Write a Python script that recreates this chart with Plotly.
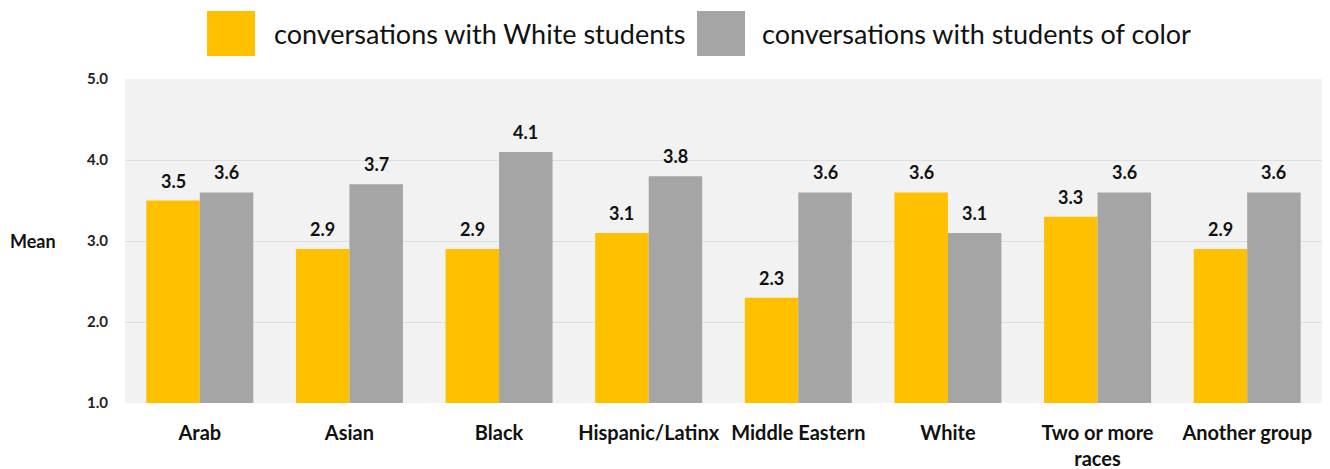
import plotly.graph_objects as go

categories = ["Arab", "Asian", "Black", "Hispanic/Latinx", "Middle Eastern", "White", "Two or more<br>races", "Another group"]
white_students = [3.5, 2.9, 2.9, 3.1, 2.3, 3.6, 3.3, 2.9]
students_of_color = [3.6, 3.7, 4.1, 3.8, 3.6, 3.1, 3.6, 3.6]
series_names = ["conversations with White students", "conversations with students of color"]
colors = ["#FFC000", "#A5A5A5"]
y_ticks = [1.0, 2.0, 3.0, 4.0, 5.0]

W, H = 1330, 469
L, R, T, B = 125, 8, 79, 66
pw, ph = W - L - R, H - T - B
BARGAP = 0.285

def px(x):
    return (x - L) / pw

def py(y):
    return (H - B - y) / ph

fig = go.Figure()
slot = pw / len(categories)
half = slot * (1 - BARGAP) / 4
for i, (name, vals, col) in enumerate(zip(series_names, [white_students, students_of_color], colors)):
    fig.add_trace(go.Bar(
        x=categories, y=vals, name=name, marker=dict(color=col, line=dict(width=0)),
        showlegend=False,
    ))
    shift = -half if i == 0 else half
    for c, v in zip(categories, vals):
        fig.add_annotation(x=c, y=v, xshift=shift, yshift=7, yanchor="bottom",
                           text=f"{v:.1f}", showarrow=False,
                           font=dict(family="Lato", size=18, color="#111111", weight="bold"))

# legend drawn manually (large swatches)
legend_items = [(207, 272), (697, 760)]
for (sx, tx), name, col in zip(legend_items, series_names, colors):
    fig.add_shape(type="rect", xref="paper", yref="paper",
                  x0=px(sx), x1=px(sx + 48), y0=py(56), y1=py(11),
                  fillcolor=col, line=dict(width=0))
    fig.add_annotation(xref="paper", yref="paper", x=px(tx), y=py(33),
                       xanchor="left", yanchor="middle", text=name, showarrow=False,
                       font=dict(family="Lato", size=27, color="#111111"))

fig.add_annotation(xref="paper", yref="paper", x=px(8), y=py(241), xanchor="left",
                   yanchor="middle", text="Mean", showarrow=False,
                   font=dict(family="Lato", size=18, color="#111111", weight="bold"))

fig.update_layout(
    width=W, height=H,
    margin=dict(l=L, r=R, t=T, b=B),
    paper_bgcolor="white", plot_bgcolor="#F2F2F2",
    barmode="group", bargap=BARGAP, bargroupgap=0,
    xaxis=dict(tickfont=dict(family="Lato", size=20, color="#111111", weight="bold"),
               showgrid=False, showline=False, ticks="", ticklabelstandoff=16,
               automargin=False),
    yaxis=dict(range=[1, 5], tickvals=y_ticks, ticktext=[f"{v:.1f}" for v in y_ticks],
               tickfont=dict(family="Lato", size=15, color="#222222", weight="bold"),
               showgrid=True, gridcolor="#DEDEDE", gridwidth=1, zeroline=False,
               showline=False, ticks="", ticklabelstandoff=16, automargin=False),
    font=dict(family="Lato"),
)
fig.write_html("out.html", config={"displayModeBar": False},
               post_script="document.body.style.margin='0';document.body.style.padding='0';")
